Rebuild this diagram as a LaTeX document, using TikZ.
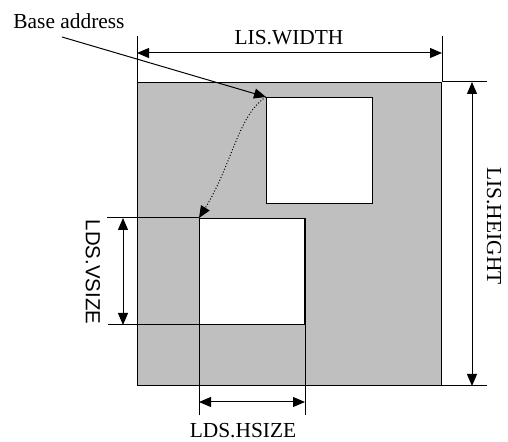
\documentclass[tikz,border=0pt]{standalone}
\usepackage{fontspec}
\setmainfont{Liberation Serif}
\setsansfont{Liberation Sans}
\usetikzlibrary{arrows.meta,calc,positioning}
\tikzset{
  area/.style = {draw, fill=black!25, line width=0.5pt, inner sep=0pt, anchor=north west},
  win/.style  = {draw, fill=white, line width=0.5pt, inner sep=0pt, anchor=north west},
  ext/.style  = {line width=0.5pt},
  dim/.style  = {{Triangle[length=6pt,width=5pt]}-{Triangle[length=6pt,width=5pt]}, line width=0.5pt},
  ptr/.style  = {-{Triangle[length=6pt,width=5pt]}, line width=0.5pt},
  lbl/.style  = {font=\fontsize{10.7}{12}\selectfont, inner sep=1pt},
  slbl/.style = {font=\sffamily\fontsize{10.2}{12}\selectfont, inner sep=1pt},
}
\begin{document}
\begin{tikzpicture}[x=0.5pt,y=-0.5pt]
  \useasboundingbox (0,0) rectangle (508,442);
  \node[area, minimum width=152pt, minimum height=151.5pt] (lis) at (137,82) {};
  \node[win, minimum width=53pt, minimum height=53pt] (src) at (266,97) {};
  \node[win, minimum width=52.5pt, minimum height=53pt] (dst) at (199,218) {};
  \draw[ext] (lis.north west) -- ++(0,-46);
  \draw[ext] (lis.north east) -- ++(0,-46);
  \draw[ext] (lis.north east) -- ++(45,0);
  \draw[ext] (lis.south east) -- ++(45,0);
  \draw[ext] (dst.north west) -- ++(-92,0);
  \draw[ext] (dst.south east) -- ++(-197,0);
  \draw[ext] (dst.north west) -- ++(0,197);
  \draw[ext] (dst.north east) -- ++(0,197);
  \draw[dim] ($(lis.north west)+(0,-29)$) -- ($(lis.north east)+(0,-29)$);
  \node[lbl] (wlbl) at (289,38) {LIS.WIDTH};
  \draw[dim] ($(lis.north east)+(30,0)$) -- ($(lis.south east)+(30,0)$);
  \node[lbl, rotate=-90] (hlbl) at (494,226) {LIS.HEIGHT};
  \draw[dim] ($(dst.north west)+(-76,0)$) -- ($(dst.south west)+(-76,0)$);
  \node[slbl, rotate=-90] (vlbl) at (93,272) {LDS.VSIZE};
  \draw[dim] ($(dst.south west)+(0,77)$) -- ($(dst.south east)+(0,77)$);
  \node[lbl] (hslbl) at (243,431) {LDS.HSIZE};
  \node[lbl] (base) at (69,21) {Base address};
  \coordinate (b0) at (62,37);
  \draw[ptr] (b0) -- (src.north west);
  \draw[ptr, densely dotted] (src.north west) .. controls (238,115) and (232,165) .. (dst.north west);
\end{tikzpicture}
\end{document}
